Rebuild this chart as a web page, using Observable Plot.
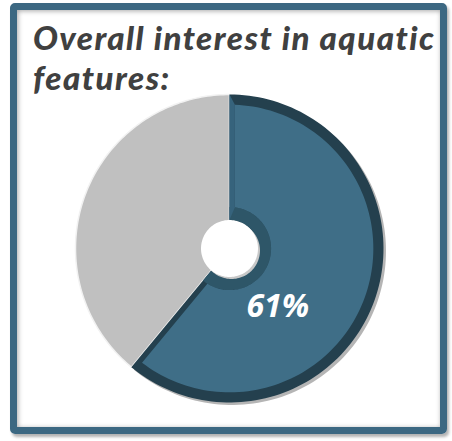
<!DOCTYPE html>
<html>
<head>
<meta charset="utf-8">
<script src="https://cdn.jsdelivr.net/npm/d3@7"></script>
<script src="https://cdn.jsdelivr.net/npm/@observablehq/plot@0.6"></script>
<style>
  html, body { margin: 0; padding: 0; background: #ffffff; width: 452px; height: 441px; overflow: hidden; }
  #chart { position: absolute; left: 0; top: 0; }
  #frame {
    position: absolute; left: 10px; top: 3px; width: 437px; height: 431px;
    box-sizing: border-box; border: 7px solid #3c6882; border-radius: 5px;
    box-shadow: 2px 3px 3px rgba(0,0,0,0.3), inset 1px 1px 5px rgba(0,0,0,0.35);
    pointer-events: none;
  }
  .title {
    position: absolute; left: 33px; margin: 0; height: 40px; overflow: visible;
    font-family: Lato, "Open Sans", sans-serif; font-weight: 900; font-style: italic;
    font-size: 33px; line-height: 40px; letter-spacing: 1.5px; color: #404040; white-space: nowrap;
  }
  #t1 { top: 17px; }
  #t2 { top: 57px; }
</style>
</head>
<body>
<div id="chart"></div>
<div id="frame"></div>
<div class="title" id="t1">Overall interest in aquatic</div>
<div class="title" id="t2">features:</div>
<script>
// ---- data ----
const categories = ["Interested", "Not interested"];
const values = [61, 39];
const labels = ["61%", ""];
const colors = ["#3f6e87", "#c0c0c0"];

// ---- geometry helpers (unit circle, angle clockwise from 12 o'clock) ----
const total = d3.sum(values);
let acc = 0;
const slices = categories.map((c, i) => {
  const a0 = acc / total * 2 * Math.PI;
  acc += values[i];
  const a1 = acc / total * 2 * Math.PI;
  return {category: c, value: values[i], a0, a1, color: colors[i], label: labels[i]};
});
const holeR = 0.185;

function pt(r, a, key) { return {x: r * Math.sin(a), y: r * Math.cos(a), key}; }
function sector(a0, a1, r0, r1, key, ds = 0) {
  const pts = [];
  const n = 120;
  const o1 = ds ? Math.asin(ds / r1) : 0;
  for (let k = 0; k <= n; k++) pts.push(pt(r1, a0 + o1 + (a1 - a0 - 2 * o1) * k / n, key));
  if (r0 > 0) {
    const o0 = ds ? Math.asin(ds / r0) : 0;
    for (let k = n; k >= 0; k--) pts.push(pt(r0, a0 + o0 + (a1 - a0 - 2 * o0) * k / n, key));
  } else pts.push(pt(0, 0, key));
  return pts;
}

const blue = slices[0], gray = slices[1];
const dOut = 0.066, dHole = 0.085, dSide = 0.035;

const shadowPts = sector(blue.a0, blue.a1, 0, 1, "shadow");
const grayPts = sector(gray.a0, gray.a1, 0, 1, "gray");
const blueDark = sector(blue.a0, blue.a1, 0, 1, "bd");
const holeRing = sector(blue.a0, blue.a1, holeR, holeR + dHole, "hr");
const topStrip = [
  pt(1, blue.a0, "ts"),
  pt(1 - dOut, blue.a0 + Math.asin(dSide / (1 - dOut)), "ts"),
  pt(holeR + dHole, blue.a0 + Math.asin(dSide / (holeR + dHole)), "ts"),
  pt(holeR, blue.a0, "ts")
];
const blueMain = sector(blue.a0, blue.a1, holeR + dHole, 1 - dOut, "bm", dSide);
const holeShadow = sector(0, 2 * Math.PI, 0, holeR, "hs");
const hole = sector(0, 2 * Math.PI, 0, holeR, "h");

const mid = (blue.a0 + blue.a1) / 2;
const labelData = [{...pt(0.45, mid, "lbl"), text: blue.label}];

const poly = (data, opts) => Plot.line(data, {x: "x", y: "y", z: "key", curve: "linear-closed", stroke: "none", ...opts});

const R = 154, cx = 229, cy = 248;
const chart = Plot.plot({
  width: 452, height: 441,
  margin: 0,
  x: {domain: [-1, 1], range: [cx - R, cx + R], axis: null},
  y: {domain: [-1, 1], range: [cy + R, cy - R], axis: null},
  style: {background: "transparent", overflow: "visible"},
  marks: [
    poly(shadowPts, {fill: "#b5b5b5", dx: 2.5, dy: 2.5}),
    poly(grayPts, {fill: gray.color, stroke: "#f2f2f2", strokeWidth: 1.5}),
    poly(blueDark, {fill: "#24404e"}),
    poly(holeRing, {fill: "#2e5668"}),
    poly(topStrip, {fill: "#36637c"}),
    poly(blueMain, {fill: blue.color}),
    poly(holeShadow, {fill: "#c8c8c8", dx: 2, dy: 2}),
    poly(hole, {fill: "#ffffff"}),
    Plot.text(labelData, {x: "x", y: "y", text: "text", dx: -17, dy: 35,
      fill: "white", fontSize: 32, fontWeight: 700, fontStyle: "italic",
      fontFamily: "'Open Sans', Lato, sans-serif"})
  ]
});
document.getElementById("chart").appendChild(chart);
</script>
</body>
</html>
